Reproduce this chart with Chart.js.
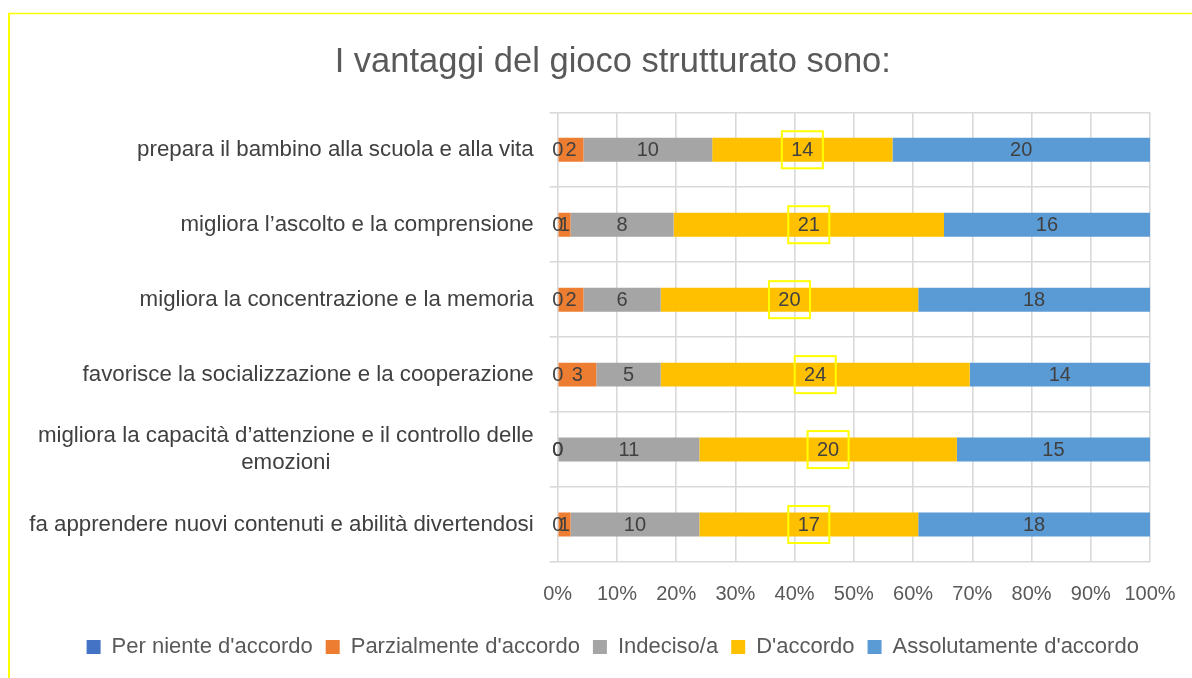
<!DOCTYPE html>
<html>
<head>
<meta charset="utf-8">
<script src="https://cdn.jsdelivr.net/npm/chart.js@4/dist/chart.umd.min.js"></script>
<style>
html,body{margin:0;padding:0;background:#fff;}
#c{display:block;}
</style>
</head>
<body>
<canvas id="c" width="1192" height="678"></canvas>
<script>
const titleText = 'I vantaggi del gioco strutturato sono:';
const categories = [
  'prepara il bambino alla scuola e alla vita',
  'migliora l’ascolto e la comprensione',
  'migliora la concentrazione e la memoria',
  'favorisce la socializzazione e la cooperazione',
  ['migliora la capacità d’attenzione e il controllo delle', 'emozioni'],
  'fa apprendere nuovi contenuti e abilità divertendosi'
];
const seriesNames = ["Per niente d'accordo", "Parzialmente d'accordo", 'Indeciso/a', "D'accordo", "Assolutamente d'accordo"];
const perNiente     = [0, 0, 0, 0, 0, 0];
const parzialmente  = [2, 1, 2, 3, 0, 1];
const indeciso      = [10, 8, 6, 5, 11, 10];
const daccordo      = [14, 21, 20, 24, 20, 17];
const assolutamente = [20, 16, 18, 14, 15, 18];
const seriesColors = ['#4472C4', '#ED7D31', '#A5A5A5', '#FFC000', '#5B9BD5'];

const counts = [perNiente, parzialmente, indeciso, daccordo, assolutamente];
const totals = categories.map((_, i) => counts.reduce((s, arr) => s + arr[i], 0));
const FONT = '"Liberation Sans", Arial, sans-serif';
Chart.defaults.font.family = FONT;

const framePlugin = {
  id: 'frame',
  beforeDraw(chart) {
    const c = chart.ctx;
    c.save();
    c.fillStyle = '#ffffff';
    c.fillRect(0, 0, chart.width, chart.height);
    c.strokeStyle = '#FFFF00';
    c.lineWidth = 1.5;
    c.beginPath(); c.moveTo(8, 13.5); c.lineTo(chart.width, 13.5); c.stroke();
    c.lineWidth = 2;
    c.beginPath(); c.moveTo(9, 13); c.lineTo(9, chart.height); c.stroke();
    c.restore();
  }
};

const catLabelPlugin = {
  id: 'catLabels',
  afterDraw(chart) {
    const ys = chart.scales.y, ctx = chart.ctx;
    ctx.save();
    ctx.font = '22.3px ' + FONT;
    ctx.fillStyle = '#404040';
    ctx.textBaseline = 'middle';
    ctx.textAlign = 'center';
    const right = chart.chartArea.left - 24;
    categories.forEach((lab, i) => {
      const lines = Array.isArray(lab) ? lab : [lab];
      const cy = ys.getPixelForValue(i);
      const w = Math.max(...lines.map(l => ctx.measureText(l).width));
      lines.forEach((l, k) => {
        const ly = cy + (k - (lines.length - 1) / 2) * 27;
        ctx.fillText(l, right - w / 2, ly);
      });
    });
    ctx.restore();
  }
};

const valueLabelPlugin = {
  id: 'valueLabels',
  afterDatasetsDraw(chart) {
    const ctx = chart.ctx;
    ctx.save();
    ctx.font = '20px ' + FONT;
    ctx.fillStyle = '#404040';
    ctx.textAlign = 'center';
    ctx.textBaseline = 'middle';
    chart.data.datasets.forEach((ds, di) => {
      const meta = chart.getDatasetMeta(di);
      meta.data.forEach((bar, i) => {
        const p = bar.getProps(['x', 'base', 'y'], true);
        const cx = (p.x + p.base) / 2;
        ctx.fillText(String(counts[di][i]), cx, p.y + 1);
        if (di === 3) {
          ctx.strokeStyle = '#FFFF00';
          ctx.lineWidth = 2;
          ctx.strokeRect(cx - 20.5, p.y - 18.5, 41, 37);
        }
      });
    });
    ctx.restore();
  }
};

new Chart(document.getElementById('c'), {
  type: 'bar',
  data: {
    labels: categories,
    datasets: seriesNames.map((name, di) => ({
      label: name,
      data: counts[di].map((v, i) => v / totals[i] * 100),
      backgroundColor: seriesColors[di],
      borderWidth: 0,
      barPercentage: 0.32,
      categoryPercentage: 1
    }))
  },
  options: {
    responsive: false,
    animation: false,
    devicePixelRatio: 1,
    indexAxis: 'y',
    layout: { padding: { left: 72, right: 38.5, top: 0, bottom: 10 } },
    plugins: {
      title: {
        display: true, text: titleText, color: '#595959',
        font: { family: FONT, size: 34.5, weight: 'normal' },
        padding: { top: 41.8, bottom: 29.1 }
      },
      legend: {
        position: 'bottom',
        labels: { boxWidth: 14, boxHeight: 14, padding: 13, color: '#595959', font: { family: FONT, size: 22 } }
      },
      tooltip: { enabled: false }
    },
    scales: {
      x: {
        stacked: true, min: 0, max: 100,
        ticks: { stepSize: 10, callback: v => v + '%', color: '#595959', font: { size: 20 }, padding: 20 },
        grid: { color: '#D9D9D9', lineWidth: 1.6, drawTicks: false },
        border: { display: false },
        afterFit(s) { s.height = 61; s.paddingRight = 42; s.paddingLeft = 0; }
      },
      y: {
        stacked: true,
        ticks: { display: false },
        grid: { offset: true, color: '#D9D9D9', lineWidth: 1.6, drawTicks: true, tickLength: 8 },
        border: { display: false },
        afterFit(s) { s.width = 485.7; }
      }
    }
  },
  plugins: [framePlugin, catLabelPlugin, valueLabelPlugin]
});
</script>
</body>
</html>
